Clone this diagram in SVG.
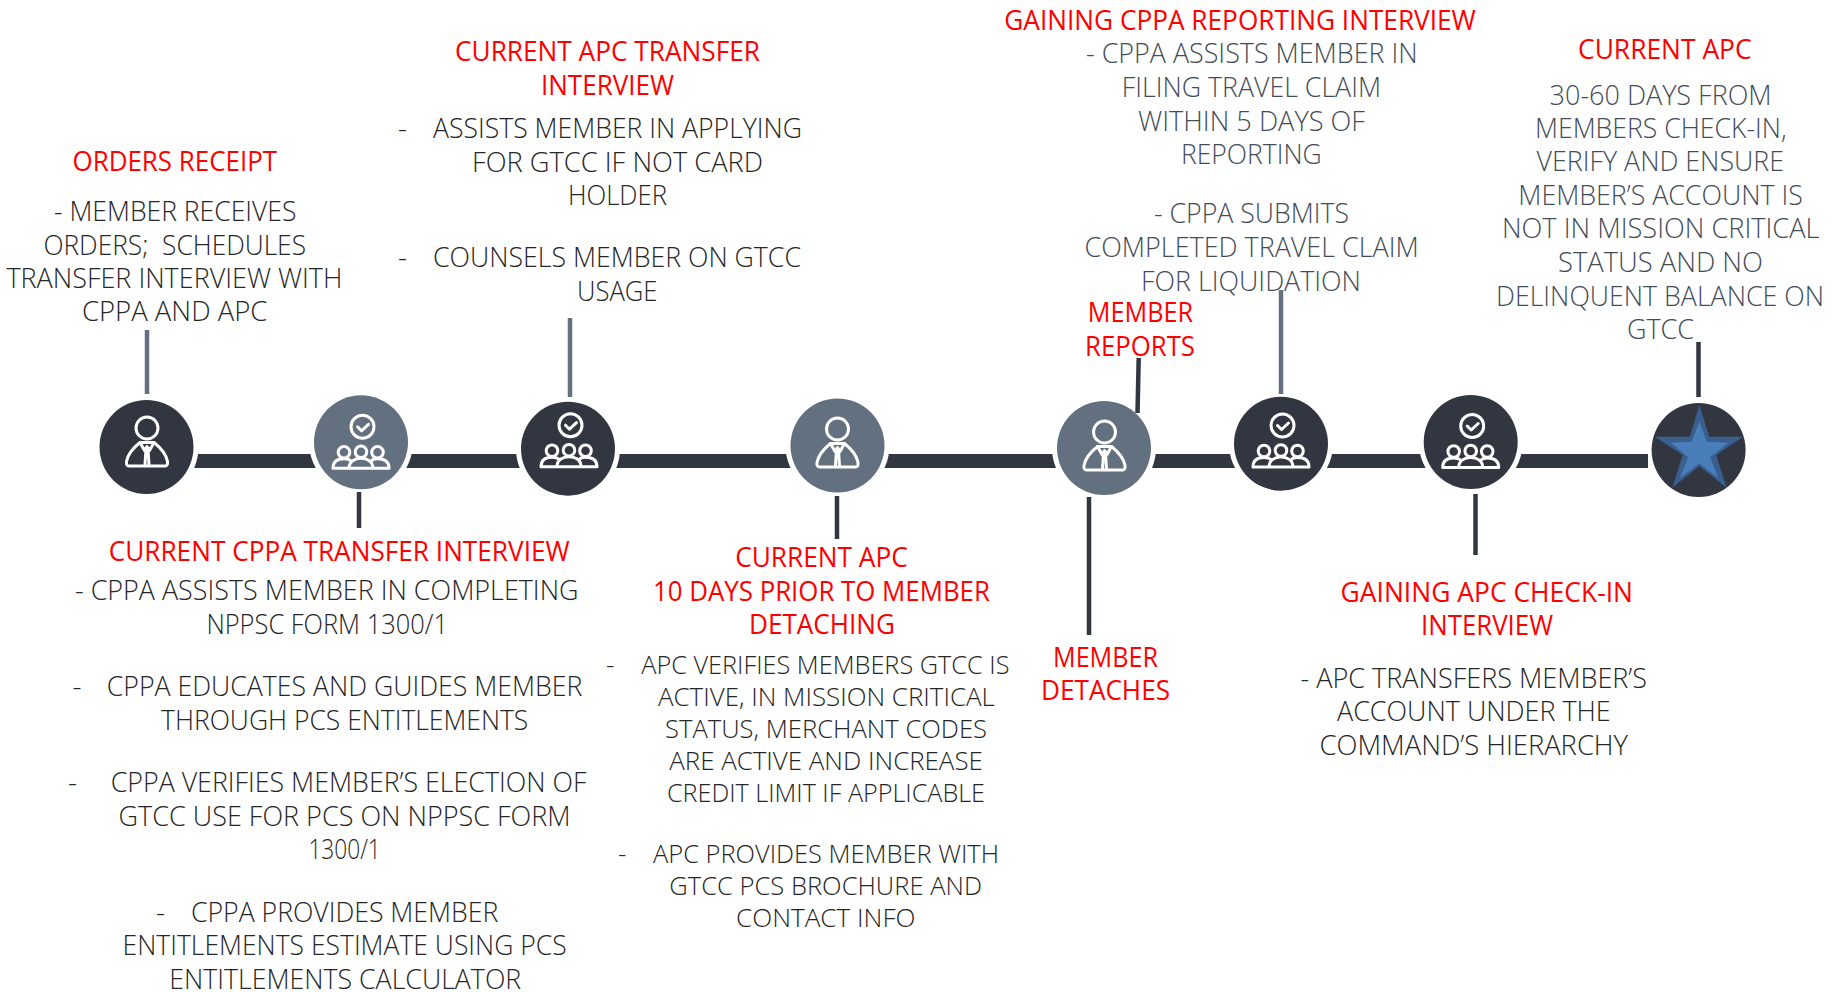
<svg xmlns="http://www.w3.org/2000/svg" width="1845" height="992" viewBox="0 0 1845 992">
<style>
text{font-family:"Open Sans","Liberation Sans",sans-serif;font-weight:300;font-size:28px;white-space:pre;fill:#262626;transform:translateY(.6px)}
.h{fill:#ff0000;font-weight:400}
.s{font-size:26px}
.g{fill:#444c58}
.bar{fill:#323640}
.ld{stroke:#323640;stroke-width:4.5;fill:none}
.lg{stroke:#637080;stroke-width:4.5;fill:none}
.halo{fill:#fff}
.dark{fill:#323640}
.grey{fill:#637080}
.ic{fill:none;stroke:#fff;stroke-width:3;stroke-linejoin:round;stroke-linecap:round}
</style>
<defs>
<g id="icon-person" class="ic">
<circle cx="0" cy="-16.5" r="11"/>
<path d="M-18,21.5 Q-21,21.5 -20.5,17 C-19,8 -12,2 -7,-2 L7,-2 C12,2 19,8 20.5,17 Q21,21.5 18,21.5 Z"/>
<path d="M-7,-2 L-2.5,6 L0,2 L2.5,6 L7,-2 M-1,5 L-2,20 M1,5 L2,20"/>
</g>
<g id="icon-group" class="ic">
<circle cx="1.5" cy="-15.5" r="11.5"/>
<path d="M-3.5,-15.5 L0.5,-11.5 L7.5,-18"/>
<circle cx="-17" cy="10" r="5.8"/>
<circle cx="0" cy="9.5" r="5.8"/>
<circle cx="16.5" cy="10" r="5.8"/>
<path d="M-28,26 C-28,19 -23,16.5 -17,16.5 C-14,16.5 -11,17.5 -10,19 M28,26 C28,19 23,16.5 16.5,16.5 C13.5,16.5 11,17.5 10,19 M-12,26 C-12,19 -6,16 0,16 C6,16 12,19 12,26 M-28,26 L28,26"/>
</g>
</defs>

<g id="connectors">
<rect class="bar" x="146" y="454" width="1502" height="14"/>
<circle class="halo" cx="146.5" cy="447" r="52"/>
<circle class="halo" cx="361" cy="442.3" r="52"/>
<circle class="halo" cx="568" cy="448.7" r="52"/>
<circle class="halo" cx="837.5" cy="445.5" r="52"/>
<circle class="halo" cx="1104" cy="448" r="52"/>
<circle class="halo" cx="1281" cy="443.7" r="52"/>
<circle class="halo" cx="1470.7" cy="442" r="52"/>
<line class="lg" x1="147" y1="330" x2="147" y2="394"/>
<line class="ld" x1="359" y1="492" x2="359" y2="528"/>
<line class="lg" x1="570" y1="318" x2="570" y2="397"/>
<line class="ld" x1="837" y1="496" x2="837" y2="539"/>
<line class="ld" x1="1089" y1="497" x2="1089" y2="635"/>
<line class="ld" x1="1138.7" y1="358" x2="1137.5" y2="413"/>
<line class="lg" x1="1281" y1="290" x2="1281" y2="394"/>
<line class="ld" x1="1475.5" y1="494" x2="1475.5" y2="555"/>
<line class="ld" x1="1698.5" y1="342" x2="1698.5" y2="397"/>
</g>

<g id="node-orders-receipt">
<circle class="dark" cx="146.5" cy="447" r="47"/>
<use href="#icon-person" x="147" y="444.5"/>
<text class="h" x="72.5" y="170.7" textLength="204.5" lengthAdjust="spacingAndGlyphs">ORDERS RECEIPT</text>
<text x="54" y="220" textLength="242.5" lengthAdjust="spacingAndGlyphs">- MEMBER RECEIVES</text>
<text x="43.4" y="254" textLength="262.6" lengthAdjust="spacingAndGlyphs">ORDERS;  SCHEDULES</text>
<text x="6.4" y="287" textLength="336" lengthAdjust="spacingAndGlyphs">TRANSFER INTERVIEW WITH</text>
<text x="82" y="320.7" textLength="185.3" lengthAdjust="spacingAndGlyphs">CPPA AND APC</text>
</g>

<g id="node-current-cppa-transfer">
<circle class="grey" cx="361" cy="442.3" r="47"/>
<use href="#icon-group" x="361" y="442.3"/>
<text class="h" x="108.7" y="560" textLength="461" lengthAdjust="spacingAndGlyphs">CURRENT CPPA TRANSFER INTERVIEW</text>
<text x="75" y="599.3" textLength="503.5" lengthAdjust="spacingAndGlyphs">- CPPA ASSISTS MEMBER IN COMPLETING</text>
<text x="206.4" y="633.3" textLength="241.6" lengthAdjust="spacingAndGlyphs">NPPSC FORM 1300/1</text>
<text y="695.7"><tspan x="72.4">-</tspan><tspan x="106.8" textLength="475.6" lengthAdjust="spacingAndGlyphs">CPPA EDUCATES AND GUIDES MEMBER</tspan></text>
<text x="161" y="729.3" textLength="367.3" lengthAdjust="spacingAndGlyphs">THROUGH PCS ENTITLEMENTS</text>
<text y="791.7"><tspan x="68">-</tspan><tspan x="110.7" textLength="475.7" lengthAdjust="spacingAndGlyphs">CPPA VERIFIES MEMBER’S ELECTION OF</tspan></text>
<text x="118.6" y="825.7" textLength="452" lengthAdjust="spacingAndGlyphs">GTCC USE FOR PCS ON NPPSC FORM</text>
<text x="308.4" y="858.7" textLength="72.4" lengthAdjust="spacingAndGlyphs">1300/1</text>
<text y="921.3"><tspan x="156">-</tspan><tspan x="191" textLength="307.2" lengthAdjust="spacingAndGlyphs">CPPA PROVIDES MEMBER</tspan></text>
<text x="122.6" y="954.7" textLength="444" lengthAdjust="spacingAndGlyphs">ENTITLEMENTS ESTIMATE USING PCS</text>
<text x="169.2" y="988" textLength="352" lengthAdjust="spacingAndGlyphs">ENTITLEMENTS CALCULATOR</text>
</g>

<g id="node-current-apc-transfer">
<circle class="dark" cx="568" cy="448.7" r="47"/>
<use href="#icon-group" x="569" y="440.7"/>
<text class="h" x="455" y="60.7" textLength="305" lengthAdjust="spacingAndGlyphs">CURRENT APC TRANSFER</text>
<text class="h" x="541" y="94.3" textLength="133" lengthAdjust="spacingAndGlyphs">INTERVIEW</text>
<text y="137.7"><tspan x="398">-</tspan><tspan x="433" textLength="369" lengthAdjust="spacingAndGlyphs">ASSISTS MEMBER IN APPLYING</tspan></text>
<text x="472" y="171" textLength="291" lengthAdjust="spacingAndGlyphs">FOR GTCC IF NOT CARD</text>
<text x="568" y="204.3" textLength="99" lengthAdjust="spacingAndGlyphs">HOLDER</text>
<text y="266.7"><tspan x="398">-</tspan><tspan x="433" textLength="368" lengthAdjust="spacingAndGlyphs">COUNSELS MEMBER ON GTCC</tspan></text>
<text x="577" y="300.7" textLength="80.5" lengthAdjust="spacingAndGlyphs">USAGE</text>
</g>

<g id="node-current-apc-detach">
<circle class="grey" cx="837.5" cy="445.5" r="47"/>
<use href="#icon-person" x="837.5" y="445.5"/>
<text class="h" x="735.2" y="566" textLength="172.6" lengthAdjust="spacingAndGlyphs">CURRENT APC</text>
<text class="h" x="653" y="600" textLength="336.9" lengthAdjust="spacingAndGlyphs">10 DAYS PRIOR TO MEMBER</text>
<text class="h" x="749" y="633.3" textLength="146" lengthAdjust="spacingAndGlyphs">DETACHING</text>
<text class="s" y="673.3"><tspan x="606">-</tspan><tspan x="641.2" textLength="368.3" lengthAdjust="spacingAndGlyphs">APC VERIFIES MEMBERS GTCC IS</tspan></text>
<text class="s" x="658" y="705.3" textLength="336.8" lengthAdjust="spacingAndGlyphs">ACTIVE, IN MISSION CRITICAL</text>
<text class="s" x="665" y="737.3" textLength="322" lengthAdjust="spacingAndGlyphs">STATUS, MERCHANT CODES</text>
<text class="s" x="669.3" y="769.3" textLength="313.5" lengthAdjust="spacingAndGlyphs">ARE ACTIVE AND INCREASE</text>
<text class="s" x="667" y="801.3" textLength="318" lengthAdjust="spacingAndGlyphs">CREDIT LIMIT IF APPLICABLE</text>
<text class="s" y="862.7"><tspan x="618">-</tspan><tspan x="653" textLength="346" lengthAdjust="spacingAndGlyphs">APC PROVIDES MEMBER WITH</tspan></text>
<text class="s" x="669.3" y="894.7" textLength="312.7" lengthAdjust="spacingAndGlyphs">GTCC PCS BROCHURE AND</text>
<text class="s" x="736" y="926.7" textLength="179.5" lengthAdjust="spacingAndGlyphs">CONTACT INFO</text>
</g>

<g id="node-member-detaches">
<circle class="grey" cx="1104" cy="448" r="47"/>
<use href="#icon-person" x="1104.5" y="448.5"/>
<text class="h" x="1053" y="666" textLength="105" lengthAdjust="spacingAndGlyphs">MEMBER</text>
<text class="h" x="1041" y="699.3" textLength="129" lengthAdjust="spacingAndGlyphs">DETACHES</text>
<text class="h" x="1087.8" y="321.7" textLength="105.2" lengthAdjust="spacingAndGlyphs">MEMBER</text>
<text class="h" x="1085" y="355" textLength="110" lengthAdjust="spacingAndGlyphs">REPORTS</text>
</g>

<g id="node-gaining-cppa">
<circle class="dark" cx="1281" cy="443.7" r="47"/>
<use href="#icon-group" x="1281" y="441"/>
<text class="h" x="1004.3" y="29" textLength="471.5" lengthAdjust="spacingAndGlyphs">GAINING CPPA REPORTING INTERVIEW</text>
<text class="g" x="1086" y="62.7" textLength="331.6" lengthAdjust="spacingAndGlyphs">- CPPA ASSISTS MEMBER IN</text>
<text class="g" x="1121.8" y="96.7" textLength="259.2" lengthAdjust="spacingAndGlyphs">FILING TRAVEL CLAIM</text>
<text class="g" x="1138" y="130" textLength="227" lengthAdjust="spacingAndGlyphs">WITHIN 5 DAYS OF</text>
<text class="g" x="1181" y="163.7" textLength="140.7" lengthAdjust="spacingAndGlyphs">REPORTING</text>
<text class="g" x="1154" y="222.7" textLength="195" lengthAdjust="spacingAndGlyphs">- CPPA SUBMITS</text>
<text class="g" x="1084.6" y="256.7" textLength="334.1" lengthAdjust="spacingAndGlyphs">COMPLETED TRAVEL CLAIM</text>
<text class="g" x="1141" y="290" textLength="220" lengthAdjust="spacingAndGlyphs">FOR LIQUIDATION</text>
</g>

<g id="node-gaining-apc">
<circle class="dark" cx="1470.7" cy="442" r="47"/>
<use href="#icon-group" x="1470.7" y="441.5"/>
<text class="h" x="1340.6" y="601" textLength="292.4" lengthAdjust="spacingAndGlyphs">GAINING APC CHECK-IN</text>
<text class="h" x="1421" y="634.7" textLength="132" lengthAdjust="spacingAndGlyphs">INTERVIEW</text>
<text x="1300.6" y="687.3" textLength="346.4" lengthAdjust="spacingAndGlyphs">- APC TRANSFERS MEMBER’S</text>
<text x="1337" y="720.7" textLength="273.7" lengthAdjust="spacingAndGlyphs">ACCOUNT UNDER THE</text>
<text x="1319.6" y="754.3" textLength="308.4" lengthAdjust="spacingAndGlyphs">COMMAND’S HIERARCHY</text>
</g>

<g id="node-current-apc-star">
<circle class="dark" cx="1698.6" cy="450" r="47"/>
<polygon fill="#3a5f8f" points="1699.3,405 1709.3,436.7 1743,436.7 1716,455 1726.7,487.7 1699.3,466 1672.3,487.7 1682.7,455 1655,436.7 1690,436.7"/>
<polygon fill="#4a7ebb" points="1699.3,421.7 1706.7,441.7 1728.3,442.7 1710,457.3 1718.3,478 1699.3,463.3 1680,478 1688.3,457.3 1670.7,442.7 1691.7,441.7"/>
<text class="h" x="1578" y="58.3" textLength="173.6" lengthAdjust="spacingAndGlyphs">CURRENT APC</text>
<text class="g" x="1549.6" y="104" textLength="222" lengthAdjust="spacingAndGlyphs">30-60 DAYS FROM</text>
<text class="g" x="1535" y="137.7" textLength="251.6" lengthAdjust="spacingAndGlyphs">MEMBERS CHECK-IN,</text>
<text class="g" x="1536.6" y="170.7" textLength="247.4" lengthAdjust="spacingAndGlyphs">VERIFY AND ENSURE</text>
<text class="g" x="1518.3" y="204.3" textLength="284.5" lengthAdjust="spacingAndGlyphs">MEMBER’S ACCOUNT IS</text>
<text class="g" x="1502" y="237.7" textLength="317.5" lengthAdjust="spacingAndGlyphs">NOT IN MISSION CRITICAL</text>
<text class="g" x="1558" y="271.7" textLength="205" lengthAdjust="spacingAndGlyphs">STATUS AND NO</text>
<text class="g" x="1496" y="305.3" textLength="328" lengthAdjust="spacingAndGlyphs">DELINQUENT BALANCE ON</text>
<text class="g" x="1627" y="338.7" textLength="67" lengthAdjust="spacingAndGlyphs">GTCC</text>
</g>
</svg>
